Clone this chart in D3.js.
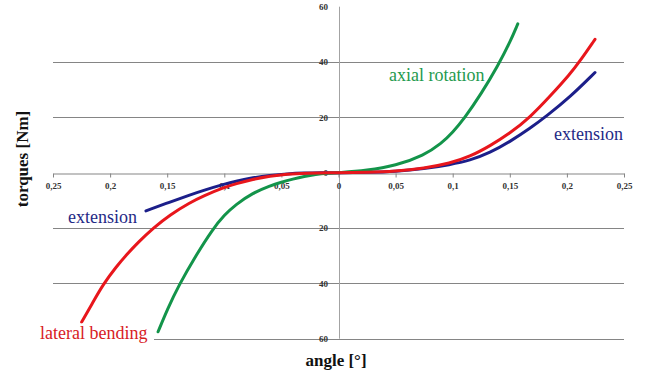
<!DOCTYPE html>
<html>
<head>
<meta charset="utf-8">
<script src="https://cdn.jsdelivr.net/npm/d3@7"></script>
<style>
  body { margin: 0; background: #fff; }
  svg { display: block; }
</style>
</head>
<body>
<svg id="chart" width="646" height="379"></svg>
<script>
// Tick values (angle in degrees, torque in Nm)
const xTicks = [-0.25, -0.2, -0.15, -0.1, -0.05, 0, 0.05, 0.1, 0.15, 0.2, 0.25];
const yTicks = [-60, -40, -20, 0, 20, 40, 60];
const gridValues = [-60, -40, -20, 20, 40];

// Measured torque–angle curves: [angle, torque]
const axialRotation = [
  [-0.158, -57.5], [-0.15, -49.5], [-0.14, -40.8], [-0.125, -30], [-0.11, -20.3],
  [-0.1, -15.3], [-0.09, -11.5], [-0.075, -7.3], [-0.06, -4.7], [-0.05, -3.4],
  [-0.04, -2.3], [-0.03, -1.35], [-0.02, -0.65], [-0.01, -0.2], [0, 0],
  [0.025, 0.8], [0.05, 2.5], [0.075, 6.3], [0.09, 10.5], [0.1, 14.6],
  [0.11, 19.5], [0.125, 28.5], [0.14, 39], [0.15, 47], [0.157, 53.8]
];
const lateralBending = [
  [-0.2249, -54], [-0.215, -46.8], [-0.206, -40.3], [-0.195, -34.2], [-0.1855, -29.6],
  [-0.175, -25], [-0.1622, -20], [-0.1476, -15.2], [-0.13, -10.8], [-0.1184, -8.4],
  [-0.1, -5.3], [-0.09, -4.0], [-0.075, -2.4], [-0.06, -1.25], [-0.045, -0.5],
  [-0.03, -0.15], [0, 0], [0.025, 0.1], [0.05, 0.5], [0.075, 1.6], [0.0976, 3.4],
  [0.115, 5.8], [0.1327, 9.7], [0.15, 14.2], [0.1677, 20], [0.185, 27.5],
  [0.2027, 35.6], [0.2114, 40.3], [0.2246, 48.2]
];
const extension = [
  [-0.1686, -13.8], [-0.1476, -10.6], [-0.13, -8.0], [-0.1184, -6.4], [-0.1, -4.1],
  [-0.0892, -3.0], [-0.075, -1.8], [-0.06, -0.95], [-0.045, -0.4], [-0.03, -0.12],
  [-0.015, -0.02], [0, 0], [0.025, 0.1], [0.05, 0.4], [0.075, 1.4], [0.0976, 2.9],
  [0.115, 4.4], [0.1327, 7.2], [0.15, 11.2], [0.1677, 16.0], [0.1823, 20.5],
  [0.2027, 27.3], [0.2246, 36.2]
];

const seriesNames = ["extension", "axial rotation", "lateral bending"];
const seriesColors = ["#1c1f8a", "#13944a", "#e8161c"];
const seriesData = [extension, axialRotation, lateralBending];

const svg = d3.select("#chart");
const serif = "'Liberation Serif', 'Times New Roman', serif";

const x = d3.scaleLinear().domain([-0.25, 0.25]).range([53, 624]);
const y = d3.scaleLinear().domain([-60, 60]).range([338.7, 6.7]);

const fmtAbs = d => d === 0 ? "0" : String(Math.abs(d)).replace(".", ",");

// Horizontal gridlines
svg.append("g")
  .selectAll("line")
  .data(gridValues)
  .join("line")
  .attr("x1", x(-0.25)).attr("x2", x(0.25))
  .attr("y1", d => Math.round(y(d)) + 0.5).attr("y2", d => Math.round(y(d)) + 0.5)
  .attr("stroke", "#858585").attr("stroke-width", 1);

// Vertical axis through zero angle
svg.append("line")
  .attr("x1", Math.round(x(0)) + 0.5).attr("x2", Math.round(x(0)) + 0.5)
  .attr("y1", y(60)).attr("y2", y(-60))
  .attr("stroke", "#a3a3a3").attr("stroke-width", 1);

// Horizontal axis at zero torque
const xAxis = d3.axisBottom(x)
  .tickValues(xTicks)
  .tickFormat(fmtAbs)
  .tickSizeInner(4)
  .tickSizeOuter(0);

const gx = svg.append("g")
  .attr("transform", `translate(0,${Math.round(y(0)) + 0.5})`)
  .call(xAxis);
gx.select(".domain").attr("stroke", "#858585");
gx.selectAll(".tick line").attr("stroke", "#858585");
gx.selectAll(".tick text")
  .attr("y", 15.5).attr("dy", 0)
  .attr("fill", "#333")
  .style("font-family", serif)
  .style("font-size", "9px")
  .style("font-weight", "bold");

// Torque tick labels beside the vertical axis
svg.append("g")
  .selectAll("text")
  .data(yTicks)
  .join("text")
  .attr("x", 328)
  .attr("y", d => y(d))
  .attr("dy", "0.35em")
  .attr("text-anchor", "end")
  .attr("fill", "#333")
  .style("font-family", serif)
  .style("font-size", "9px")
  .style("font-weight", "bold")
  .text(d => Math.abs(d));

// Curves
const line = d3.line()
  .x(d => x(d[0]))
  .y(d => y(d[1]))
  .curve(d3.curveBasis);

svg.append("g")
  .selectAll("path")
  .data(seriesData)
  .join("path")
  .attr("d", d => line(d))
  .attr("fill", "none")
  .attr("stroke", (d, i) => seriesColors[i])
  .attr("stroke-width", 3)
  .attr("stroke-linecap", "round")
  .attr("stroke-linejoin", "round");

// Curve labels
const labels = [
  { text: "axial rotation", color: "#1f9a4e", x: 389, y: 81 },
  { text: "extension", color: "#1f2a86", x: 554, y: 139.5 },
  { text: "extension", color: "#1f2a86", x: 68, y: 223 },
  { text: "lateral bending", color: "#d8201f", x: 40, y: 338.5, box: true }
];

const lg = svg.append("g");
labels.forEach(l => {
  if (l.box) {
    lg.append("rect")
      .attr("x", l.x - 4).attr("y", l.y - 15)
      .attr("width", 118).attr("height", 22)
      .attr("fill", "#fff");
  }
  lg.append("text")
    .attr("x", l.x).attr("y", l.y)
    .attr("fill", l.color)
    .style("font-family", serif)
    .style("font-size", "18px")
    .text(l.text);
});

// Axis titles
svg.append("text")
  .attr("transform", "translate(28,159) rotate(-90)")
  .attr("text-anchor", "middle")
  .attr("fill", "#111")
  .style("font-family", serif)
  .style("font-size", "17px")
  .style("font-weight", "bold")
  .text("torques [Nm]");

svg.append("text")
  .attr("x", 336).attr("y", 366)
  .attr("text-anchor", "middle")
  .attr("fill", "#111")
  .style("font-family", serif)
  .style("font-size", "17px")
  .style("font-weight", "bold")
  .text("angle [°]");
</script>
</body>
</html>
